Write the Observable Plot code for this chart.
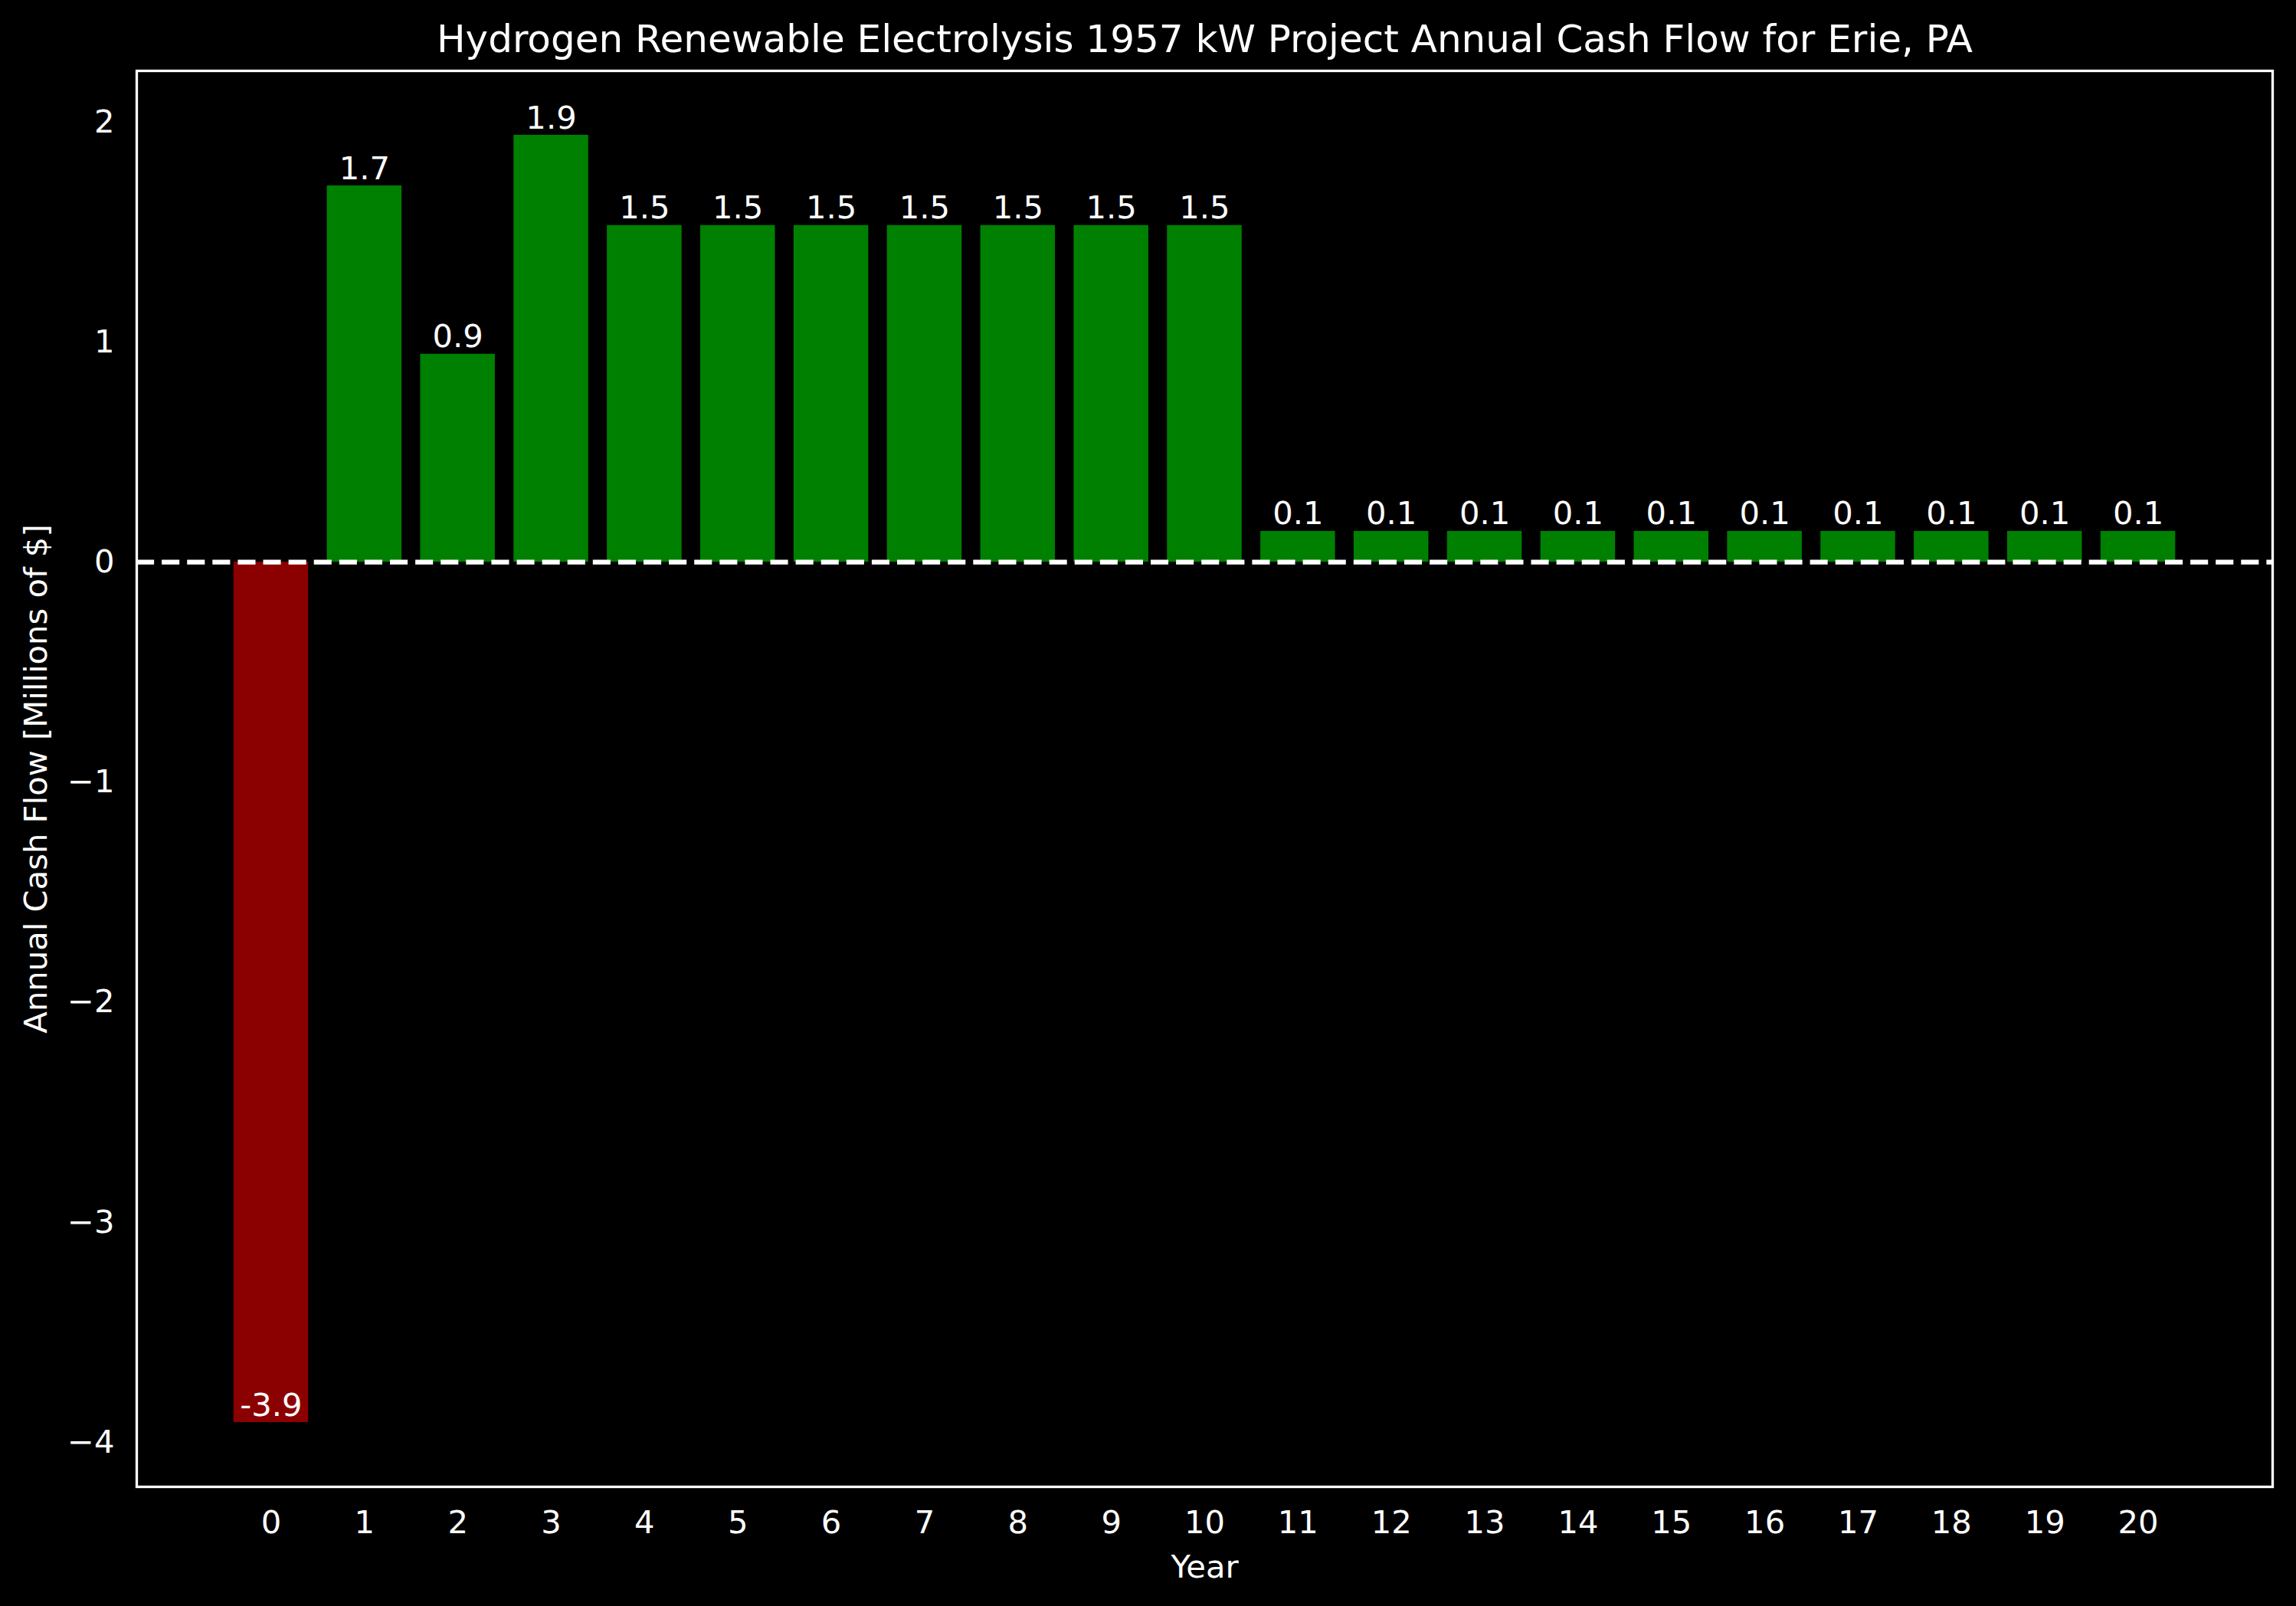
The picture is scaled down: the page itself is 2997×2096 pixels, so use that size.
<!DOCTYPE html>
<html>
<head>
<meta charset="utf-8">
<script src="https://cdn.jsdelivr.net/npm/d3@7"></script>
<script src="https://cdn.jsdelivr.net/npm/@observablehq/plot@0.6"></script>
<style>
  html, body { margin: 0; padding: 0; background: #000; }
  svg { display: block; }
</style>
</head>
<body>
<div id="chart"></div>
<script>
const years = [0,1,2,3,4,5,6,7,8,9,10,11,12,13,14,15,16,17,18,19,20];
const cashFlow = [-3.91, 1.71, 0.945, 1.94, 1.53, 1.53, 1.53, 1.53, 1.53, 1.53, 1.53,
                  0.14, 0.14, 0.14, 0.14, 0.14, 0.14, 0.14, 0.14, 0.14, 0.14];
const yTicks = [-4, -3, -2, -1, 0, 1, 2];
const titleText = "Hydrogen Renewable Electrolysis 1957 kW Project Annual Cash Flow for Erie, PA";
const xLabel = "Year";
const yLabel = "Annual Cash Flow [Millions of $]";

const data = years.map((y, i) => ({year: y, value: cashFlow[i]}));

const FONT = "DejaVu Sans";
const FS = 41.7;

const chart = Plot.plot({
  width: 2997,
  height: 2096,
  marginTop: 92,
  marginBottom: 156,
  marginLeft: 178,
  marginRight: 31,
  style: {background: "#000", color: "#fff", fontFamily: FONT, fontSize: FS + "px"},
  x: {type: "band", domain: years, paddingInner: 0.2, paddingOuter: 1.04, align: 0.5, round: false},
  y: {domain: [-4.2025, 2.2325]},
  marks: [
    Plot.barY(data, {filter: d => d.value >= 0, x: "year", y: "value", fill: "#008000"}),
    Plot.barY(data, {filter: d => d.value < 0, x: "year", y: "value", fill: "#8b0000"}),
    Plot.ruleY([0], {stroke: "#fff", strokeWidth: 6.25, strokeDasharray: "23.1,10"}),
    Plot.text(data, {x: "year", y: "value", text: d => d.value.toFixed(1), lineAnchor: "bottom", dy: -9,
                     fill: "#fff", fontSize: FS, fontFamily: FONT}),
    Plot.axisX({ticks: years, tickSize: 0, tickPadding: 31, label: null, fontSize: FS, fontFamily: FONT, fill: "#fff"}),
    Plot.axisY({ticks: yTicks, tickFormat: d3.format("d"), tickSize: 0, tickPadding: 29, label: null,
                fontSize: FS, fontFamily: FONT, fill: "#fff"}),
    Plot.frame({stroke: "#fff", strokeWidth: 3.3}),
    Plot.text([xLabel], {frameAnchor: "bottom", lineAnchor: "bottom", dy: 118, fill: "#fff", fontSize: FS, fontFamily: FONT}),
    Plot.text([yLabel], {frameAnchor: "left", rotate: -90, lineAnchor: "bottom", textAnchor: "middle", dx: -118,
                         fill: "#fff", fontSize: FS, fontFamily: FONT}),
    Plot.text([titleText], {frameAnchor: "top", lineAnchor: "bottom", dy: -25, fill: "#fff", fontSize: 50, fontFamily: FONT})
  ]
});
document.getElementById("chart").appendChild(chart);
</script>
</body>
</html>
